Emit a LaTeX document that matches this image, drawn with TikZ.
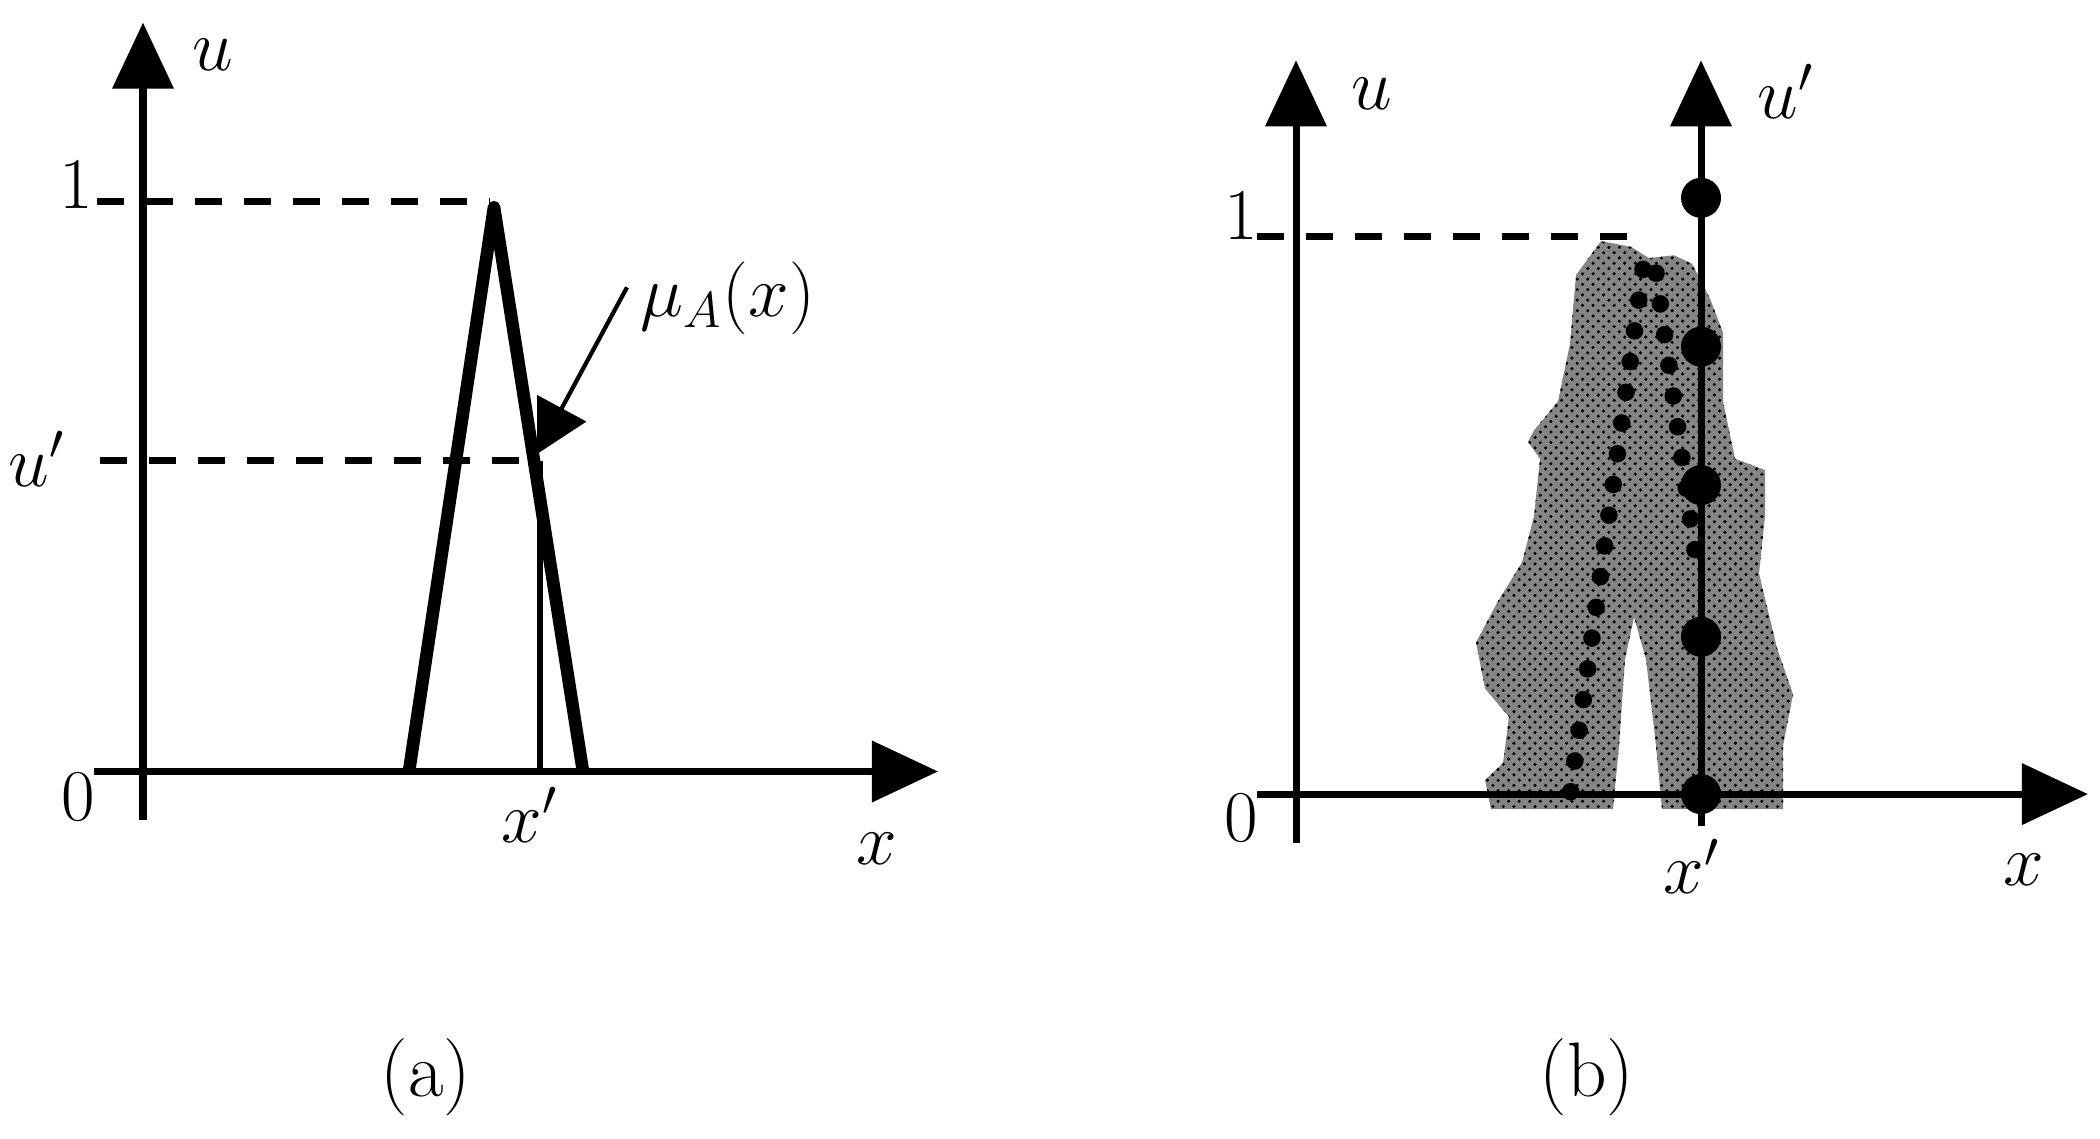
\documentclass[tikz,border=0pt]{standalone}
\usetikzlibrary{arrows.meta,patterns}
\begin{document}
\begin{tikzpicture}[x=0.01cm,y=-0.00942cm,
  axis/.style={line width=2pt,-{Triangle[length=0.66cm,width=0.6cm]}},
  dashline/.style={line width=1.8pt,dash pattern=on 0.27cm off 0.22cm},
  mfline/.style={line width=3.6pt,line join=round},
  lbl/.style={font=\fontsize{20}{24}\selectfont,inner sep=0pt},
  captext/.style={font=\fontsize{22}{26}\selectfont,inner sep=0pt},
  dotline/.style={line width=5pt,line cap=round,dash pattern=on 0pt off 0.31cm},
  blob/.style={fill=black!48},
  dotpat/.style={pattern=crosshatch dots,pattern color=black}]
\useasboundingbox (0,0) rectangle (2100,1209);

% ---------- panel (a) ----------
\coordinate (aYb) at (143,871);
\coordinate (aYt) at (143,24);
\coordinate (aXl) at (94,819);
\coordinate (aXr) at (938,819);
\coordinate (aL) at (409,819);
\coordinate (aP) at (494,220);
\coordinate (aR) at (583,819);
\coordinate (aD1) at (97,214);
\coordinate (aD1e) at (490,214);
\coordinate (aD2) at (100,489);
\coordinate (aD2e) at (536,489);
\coordinate (aV) at (540,489);
\coordinate (aVb) at (540,819);

\draw[dashline] (aD1) -- (aD1e);
\draw[dashline] (aD2) -- (aD2e);
\draw[axis] (aYb) -- (aYt);
\draw[axis] (aXl) -- (aXr);
\draw[mfline] (aL) -- (aP) -- (aR);
\draw[line width=1.6pt] (aV) -- (aVb);

\node[lbl] (au) at (213,58) {$u$};
\node[lbl] (a1) at (76,196) {$1$};
\node[lbl] (aup) at (37,487) {$u'$};
\node[lbl] (a0) at (78,846) {$0$};
\node[lbl] (axp) at (530,865) {$x'$};
\node[lbl] (ax) at (877,901) {$x$};
\node[lbl] (amu) at (728,317) {$\mu_A(x)$};
\coordinate (amuS) at (627,305);
\coordinate (amuT) at (537,482);
\draw[line width=1.2pt,-{Triangle[length=0.52cm,width=0.55cm]}] (amuS) -- (amuT);

\node[captext] (capa) at (426,1144) {(a)};

% ---------- panel (b) ----------
\coordinate (bYb) at (1296,895);
\coordinate (bYt) at (1296,64);
\coordinate (bXl) at (1257,843);
\coordinate (bXr) at (2088,843);
\coordinate (bUb) at (1701,877);
\coordinate (bUt) at (1701,64);
\coordinate (bD) at (1257,251);
\coordinate (bDe) at (1648,251);

\def\blobpath{(1601,256) -- (1576,292) -- (1570,365) -- (1558,426) -- (1534,457) -- (1528,469) -- (1540,487) -- (1534,548) -- (1522,597) -- (1497,640) -- (1476,682) -- (1485,731) -- (1509,761) -- (1503,810) -- (1485,828) -- (1491,859) -- (1613,859) -- (1619,792) -- (1625,700) -- (1634,655) -- (1646,700) -- (1656,792) -- (1662,859) -- (1783,859) -- (1783,792) -- (1793,737) -- (1777,688) -- (1759,609) -- (1765,548) -- (1765,499) -- (1735,487) -- (1723,426) -- (1723,353) -- (1710,317) -- (1692,280) -- (1674,271) -- (1649,274) -- (1631,262) -- cycle}
\fill[blob] \blobpath;
\fill[dotpat] \blobpath;

\coordinate (bL1) at (1643,286);
\coordinate (bL2) at (1570,845);
\coordinate (bR1) at (1656,290);
\coordinate (bR2) at (1697,600);
\draw[dotline] (bL1) -- (bL2);
\draw[dotline] (bR1) -- (bR2);

\draw[dashline] (bD) -- (bDe);
\draw[axis] (bYb) -- (bYt);
\draw[axis] (bXl) -- (bXr);
\draw[axis] (bUb) -- (bUt);

\foreach \yy in {210,368,515,676,843}
  \fill (1701,\yy) circle[radius=0.2cm];

\node[lbl] (bu) at (1372,100) {$u$};
\node[lbl] (bup) at (1786,97) {$u'$};
\node[lbl] (b1) at (1241,229) {$1$};
\node[lbl] (b0) at (1241,868) {$0$};
\node[lbl] (bxp) at (1692,920) {$x'$};
\node[lbl] (bx) at (2024,923) {$x$};

\node[captext] (capb) at (1587,1144) {(b)};
\end{tikzpicture}
\end{document}
